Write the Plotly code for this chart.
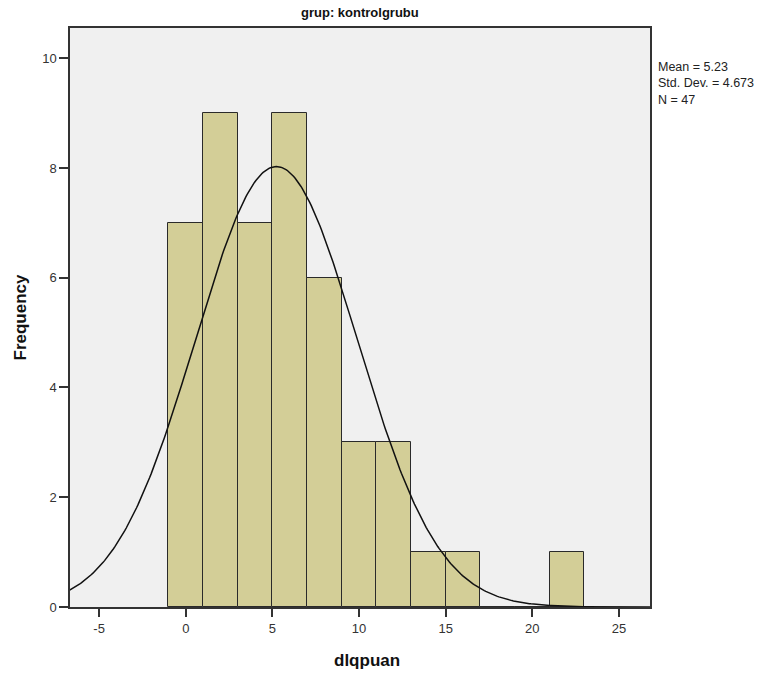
import numpy as np
import plotly.graph_objects as go

# Histogram of dlqpuan for grup = kontrolgrubu
bin_left = [-1, 1, 3, 5, 7, 9, 11, 13, 15, 17, 19, 21]
counts = [7, 9, 7, 9, 6, 3, 3, 1, 1, 0, 0, 1]
bin_width = 2
mean_val = 5.23
std_val = 4.673
n_obs = 47
x_ticks = [-5, 0, 5, 10, 15, 20, 25]
x_tick_text = ["-5", "0", "5", "10", "15", "20", "25"]
y_ticks = [0, 2, 4, 6, 8, 10]

centers = [b + bin_width / 2 for b in bin_left]

# Fitted normal curve scaled to counts
xs = np.linspace(-6.7, 26.8, 400)
ys = n_obs * bin_width / (std_val * np.sqrt(2 * np.pi)) * np.exp(-0.5 * ((xs - mean_val) / std_val) ** 2)

fig = go.Figure()
fig.add_trace(go.Bar(
    x=centers, y=counts, width=bin_width,
    marker=dict(color="#D3CE97", line=dict(color="#2a2a2a", width=1)),
    hoverinfo="skip",
))
fig.add_trace(go.Scatter(
    x=xs, y=ys, mode="lines",
    line=dict(color="#111111", width=1.5),
    hoverinfo="skip",
))

font_family = "Liberation Sans, Arial, sans-serif"

fig.update_layout(
    width=779, height=676,
    margin=dict(l=70, r=129, t=28, b=69),
    paper_bgcolor="white",
    plot_bgcolor="#F0F0F0",
    showlegend=False,
    bargap=0,
    font=dict(family=font_family, color="#222222"),
    xaxis=dict(
        range=[-6.68, 26.79],
        tickvals=x_ticks, ticktext=x_tick_text,
        ticks="outside", ticklen=8, tickwidth=1.5, tickcolor="#333333",
        ticklabelstandoff=1,
        tickfont=dict(size=13, color="#333333"),
        showgrid=False, zeroline=False, automargin=False,
        showline=True, linecolor="#333333", linewidth=1.5, mirror=True,
    ),
    yaxis=dict(
        range=[0, 10.55],
        tickvals=y_ticks,
        ticks="outside", ticklen=9, tickwidth=1.5, tickcolor="#333333",
        tickfont=dict(size=13, color="#333333"),
        showgrid=False, zeroline=False, automargin=False,
        showline=True, linecolor="#333333", linewidth=1.5, mirror=True,
    ),
    annotations=[
        dict(
            text="<b>grup: kontrolgrubu</b>",
            x=0.5, y=1, xref="paper", yref="paper",
            xanchor="center", yanchor="bottom", yshift=6,
            showarrow=False, font=dict(size=13, color="#111111"),
        ),
        dict(
            text="<b>dlqpuan</b>",
            x=0.512, y=0, xref="paper", yref="paper",
            xanchor="center", yanchor="middle", yshift=-53,
            showarrow=False, font=dict(size=17, color="#111111"),
        ),
        dict(
            text="<b>Frequency</b>",
            x=0, y=0.5, xref="paper", yref="paper",
            xanchor="center", yanchor="middle", xshift=-50, textangle=-90,
            showarrow=False, font=dict(size=17, color="#111111"),
        ),
        dict(
            text=f"Mean = {mean_val:.2f}<br>Std. Dev. = {std_val:.3f}<br>N = {n_obs}",
            x=1, y=1, xref="paper", yref="paper",
            xanchor="left", yanchor="top", xshift=6, yshift=-30,
            align="left", showarrow=False,
            font=dict(size=12.5, color="#222222"),
        ),
    ],
)

fig.write_html("out.html")
